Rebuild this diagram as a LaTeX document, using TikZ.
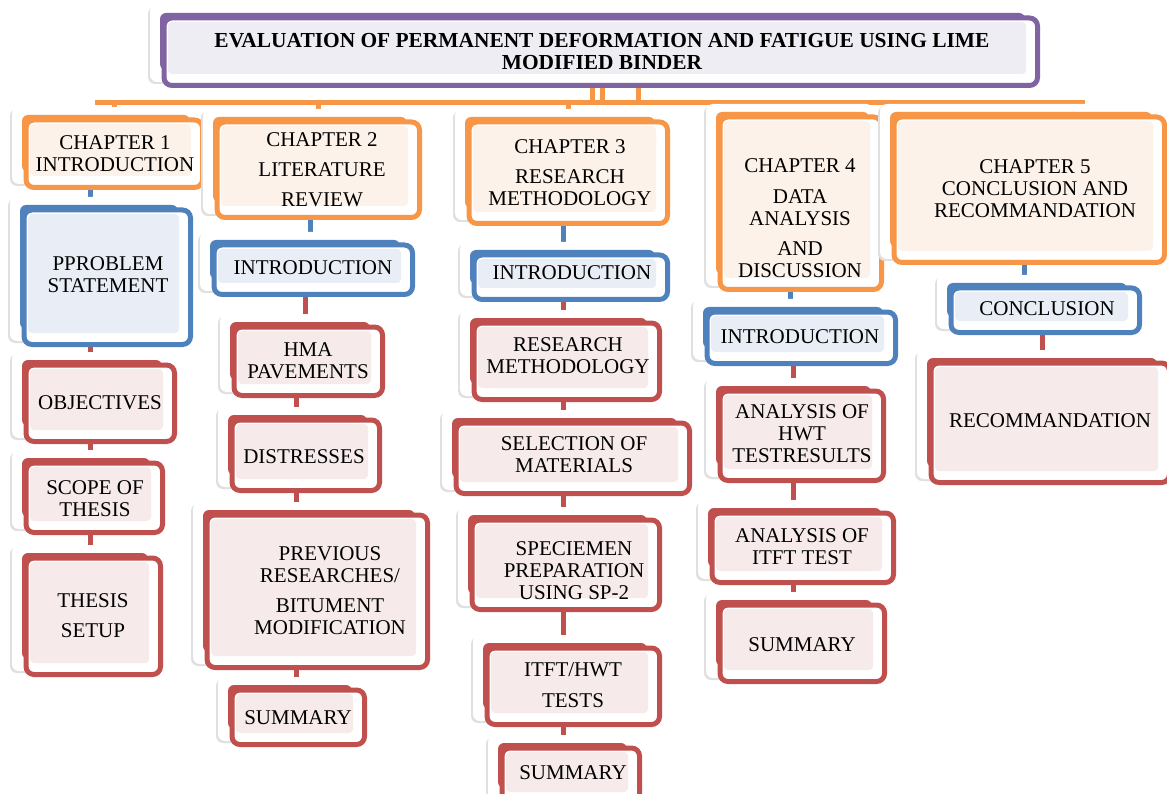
\documentclass[tikz,border=0pt]{standalone}
\usepackage{fontspec}
\setmainfont{Liberation Serif}
\pgfdeclarelayer{bg}
\pgfsetlayers{bg,main}
\definecolor{oraline}{HTML}{F79646}\definecolor{orafill}{HTML}{FDF2E9}
\definecolor{bluline}{HTML}{4F81BD}\definecolor{blufill}{HTML}{E9EEF6}
\definecolor{redline}{HTML}{C0504D}\definecolor{redfill}{HTML}{F6EAEA}
\definecolor{purline}{HTML}{8064A2}\definecolor{purfill}{HTML}{EFEDF4}
\tikzset{
  boxnode/.style={line width=5pt, fill=white, rounded corners=8pt, inner sep=0pt, outer sep=0pt},
  txt/.style={align=center, inner sep=0pt, font=\fontsize{21}{22}\selectfont},
  ttl/.style={align=center, inner sep=0pt, font=\bfseries\fontsize{21.4}{22}\selectfont},
  conn/.style={line width=5pt},
}
\newcommand{\bx}[9]{%
  \fill[black!12, rounded corners=7pt] ({#3-12},{#4-6}) rectangle ({#5-13},{#6-4});
  \fill[white, rounded corners=7pt] ({#3-10},{#4-8}) rectangle ({#5-11},{#6-6});
  \fill[#2line, rounded corners=6pt] (#3,#4) rectangle ({#5-15},{#6-18});
  \node[boxnode, draw=#2line, minimum width={(#5-#3-6.5)*1pt}, minimum height={(#6-#4-7.5)*1pt}] (#1) at ({(#3+4+#5-2.5)/2},{(#4+5+#6-2.5)/2}) {};
  \fill[#2fill, rounded corners=4pt] ({#3+8},{#4+9}) rectangle ({#5-14},{#6-14});
}
\begin{document}
\begin{tikzpicture}[x=1pt,y=-1pt]
\useasboundingbox (0,0) rectangle (1167,794);
% title
\bx{title}{pur}{160}{13}{1040}{88}{}{}{}
\node[ttl] (title-t) at (602,52) {EVALUATION OF PERMANENT DEFORMATION AND FATIGUE USING LIME\\MODIFIED BINDER};
% chapters
\bx{ch1}{ora}{22}{115}{205}{190}{}{}{}
\node[txt] (ch1-t) at (115,154) {CHAPTER 1\\INTRODUCTION};
\bx{ch2}{ora}{213}{117}{422}{220}{}{}{}
\node[txt] (ch2-t) at (322,170) {CHAPTER 2\\[8pt]LITERATURE\\[8pt]REVIEW};
\bx{ch3}{ora}{465}{117}{670}{226}{}{}{}
\node[txt] (ch3-t) at (570,172.5) {CHAPTER 3\\[8pt]RESEARCH\\METHODOLOGY};
\bx{ch4}{ora}{716}{112}{884}{292}{}{}{}
\node[txt] (ch4-t) at (800,218.5) {CHAPTER 4\\[9pt]DATA\\ANALYSIS\\[8pt]AND\\DISCUSSION};
\bx{ch5}{ora}{890}{112}{1167}{265}{}{}{}
\node[txt] (ch5-t) at (1035,189) {CHAPTER 5\\CONCLUSION AND\\RECOMMANDATION};
% blue
\bx{prob}{blu}{20}{205}{193}{347}{}{}{}
\node[txt] (prob-t) at (108,274.5) {PPROBLEM\\STATEMENT};
\bx{intro2}{blu}{210}{240}{415}{297}{}{}{}
\node[txt] (intro2-t) at (313,268) {INTRODUCTION};
\bx{intro3}{blu}{470}{250}{670}{302}{}{}{}
\node[txt] (intro3-t) at (572,273) {INTRODUCTION};
\bx{intro4}{blu}{703}{307}{898}{366}{}{}{}
\node[txt] (intro4-t) at (800,337) {INTRODUCTION};
\bx{concl}{blu}{947}{283}{1142}{335}{}{}{}
\node[txt] (concl-t) at (1047,309) {CONCLUSION};
% red column 1
\bx{obj}{red}{22}{360}{177}{444}{}{}{}
\node[txt] (obj-t) at (100,403) {OBJECTIVES};
\bx{scope}{red}{22}{458}{165}{535}{}{}{}
\node[txt] (scope-t) at (95,499) {SCOPE OF\\THESIS};
\bx{setup}{red}{22}{553}{163}{677}{}{}{}
\node[txt] (setup-t) at (93,616) {THESIS\\[8pt]SETUP};
% red column 2
\bx{hma}{red}{230}{322}{385}{398}{}{}{}
\node[txt] (hma-t) at (308,361) {HMA\\PAVEMENTS};
\bx{dist}{red}{228}{415}{382}{493}{}{}{}
\node[txt] (dist-t) at (304,457) {DISTRESSES};
\bx{prev}{red}{203}{510}{430}{670}{}{}{}
\node[txt] (prev-t) at (330,590.5) {PREVIOUS\\RESEARCHES/\\[8pt]BITUMENT\\MODIFICATION};
\bx{sum2}{red}{228}{685}{367}{747}{}{}{}
\node[txt] (sum2-t) at (298,718) {SUMMARY};
% red column 3
\bx{resm}{red}{470}{318}{662}{402}{}{}{}
\node[txt] (resm-t) at (568,356) {RESEARCH\\METHODOLOGY};
\bx{sel}{red}{452}{418}{692}{496}{}{}{}
\node[txt] (sel-t) at (574,455) {SELECTION OF\\MATERIALS};
\bx{spec}{red}{468}{515}{662}{612}{}{}{}
\node[txt] (spec-t) at (574,571) {SPECIEMEN\\PREPARATION\\USING SP-2};
\bx{itft}{red}{483}{643}{662}{727}{}{}{}
\node[txt] (itft-t) at (573,685.5) {ITFT/HWT\\[9pt]TESTS};
\bx{sum3}{red}{498}{743}{642}{806}{}{}{}
\node[txt] (sum3-t) at (573,773) {SUMMARY};
% red column 4
\bx{ahwt}{red}{716}{386}{886}{483}{}{}{}
\node[txt] (ahwt-t) at (802,433.5) {ANALYSIS OF\\HWT\\TESTRESULTS};
\bx{aitft}{red}{708}{508}{896}{585}{}{}{}
\node[txt] (aitft-t) at (802,547) {ANALYSIS OF\\ITFT TEST};
\bx{sum4}{red}{716}{600}{887}{684}{}{}{}
\node[txt] (sum4-t) at (802,645) {SUMMARY};
% red column 5
\bx{rec}{red}{927}{358}{1172}{485}{}{}{}
\node[txt] (rec-t) at (1050,421) {RECOMMANDATION};
% connectors
\coordinate (v1) at (592,0); \coordinate (v2) at (602,0); \coordinate (v3) at (638,0);
\coordinate (barl) at (95,103); \coordinate (barr) at (1085,103);
\coordinate (k1) at (90,0);
\coordinate (k2b) at (310,0); \coordinate (k2r) at (305,0); \coordinate (k2) at (296,0);
\coordinate (k3) at (563,0);
\coordinate (k4b) at (790,0); \coordinate (k4) at (793,0);
\coordinate (k5b) at (1024,0); \coordinate (k5) at (1042,0);
\begin{pgfonlayer}{bg}
\draw[conn, oraline] (title.south -| v1) -- (barl -| v1);
\draw[conn, oraline] (title.south -| v2) -- (barl -| v2);
\draw[conn, oraline] (title.south -| v3) -- (barl -| v3);
\draw[conn, oraline] (barl) -- (barr);
\foreach \c in {ch1,ch2,ch3,ch4,ch5} \draw[conn, oraline] (barl -| \c) -- (\c.north);
\draw[conn, bluline] (ch1.south -| k1) -- (prob.north -| k1);
\draw[conn, redline] (prob.south -| k1) -- (obj.north -| k1);
\draw[conn, redline] (obj.south -| k1) -- (scope.north -| k1);
\draw[conn, redline] (scope.south -| k1) -- (setup.north -| k1);
\draw[conn, bluline] (ch2.south -| k2b) -- (intro2.north -| k2b);
\draw[conn, redline] (intro2.south -| k2r) -- (hma.north -| k2r);
\draw[conn, redline] (hma.south -| k2) -- (dist.north -| k2);
\draw[conn, redline] (dist.south -| k2) -- (prev.north -| k2);
\draw[conn, redline] (prev.south -| k2) -- (sum2.north -| k2);
\draw[conn, bluline] (ch3.south -| k3) -- (intro3.north -| k3);
\draw[conn, redline] (intro3.south -| k3) -- (resm.north -| k3);
\draw[conn, redline] (resm.south -| k3) -- (sel.north -| k3);
\draw[conn, redline] (sel.south -| k3) -- (spec.north -| k3);
\draw[conn, redline] (spec.south -| k3) -- (itft.north -| k3);
\draw[conn, redline] (itft.south -| k3) -- (sum3.north -| k3);
\draw[conn, bluline] (ch4.south -| k4b) -- (intro4.north -| k4b);
\draw[conn, redline] (intro4.south -| k4) -- (ahwt.north -| k4);
\draw[conn, redline] (ahwt.south -| k4) -- (aitft.north -| k4);
\draw[conn, redline] (aitft.south -| k4) -- (sum4.north -| k4);
\draw[conn, bluline] (ch5.south -| k5b) -- (concl.north -| k5b);
\draw[conn, redline] (concl.south -| k5) -- (rec.north -| k5);
\end{pgfonlayer}
\end{tikzpicture}
\end{document}
